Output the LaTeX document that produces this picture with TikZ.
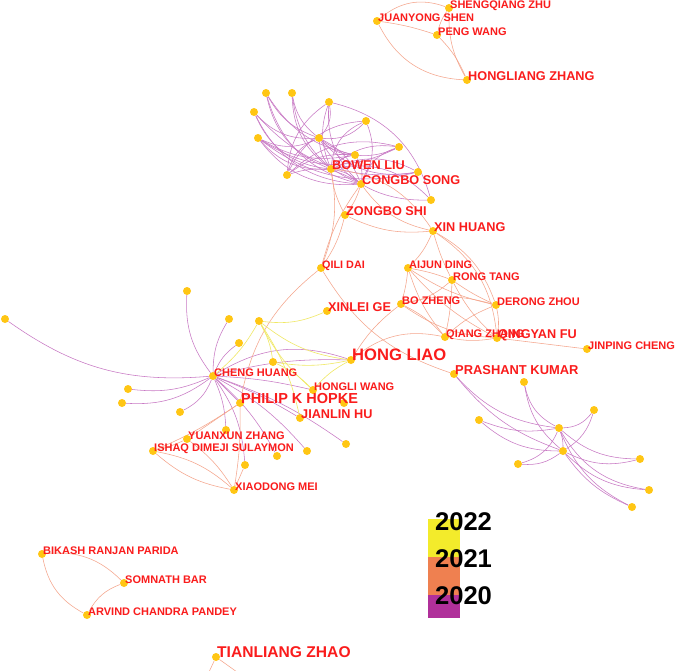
\documentclass[tikz,border=0pt]{standalone}
\usepackage{fontspec}
\setmainfont{Liberation Sans}
\pgfdeclarelayer{bg}
\pgfdeclarelayer{edges}
\pgfsetlayers{bg,edges,main}
\definecolor{labred}{RGB}{250,28,28}
\definecolor{gold}{RGB}{255,198,20}
\definecolor{c20}{RGB}{200,120,196}
\definecolor{c21}{RGB}{245,165,140}
\definecolor{c22}{RGB}{240,232,100}
\definecolor{leg22}{RGB}{243,235,43}
\definecolor{leg21}{RGB}{239,128,80}
\definecolor{leg20}{RGB}{176,48,154}
\begin{document}
\begin{tikzpicture}[x=1pt,y=-1pt,
  dot/.style={circle,fill=gold,inner sep=0pt,minimum size=8pt},
  lbl/.style={anchor=base west,inner sep=0pt,xshift=1pt,text=labred,font=\bfseries\fontsize{#1}{#1}\selectfont},
  e20/.style={draw=c20,line width=0.55pt},
  e21/.style={draw=c21,line width=0.55pt},
  e22/.style={draw=c22,line width=0.6pt},
  yr/.style={anchor=base,inner sep=0pt,font=\bfseries\fontsize{25.6}{25.6}\selectfont,text=black}]
\begin{pgfonlayer}{bg}
\fill[white] (0,0) rectangle (676,670);
\end{pgfonlayer}
\useasboundingbox (0,0) rectangle (676,670);

% nodes
\foreach \n/\x/\y in {sz/449/8, js/377/21, pw/437/35, hz/467/80,
  b1/266/93, b2/292/93, b3/329/102, b4/254/112, b5/366/121, b6/258/138, b7/319/138,
  b8/399/147, b9/355/155, bw/331/169, b10/287/175, b11/418/172, cs/361/184, b12/431/200,
  zs/345/215, xh/433/231, qd/321/268, ad/408/268, rt/452/280, bz/401/304, dz/496/305,
  xg/327/311, qz/445/337, qf/497/338, jc/587/349, hl/351/360, pk/454/374,
  c1/5/319, c2/187/291, c3/229/319, yh/259/321, c4/239/343, c5/273/362, ch/213/376,
  c6/128/389, c7/122/403, c8/180/412, ph/240/403, hw/313/390, c9/344/403, jh/300/418,
  c10/226/430, yz/187/439, is/153/451, c11/277/456, c12/307/451, c13/346/444,
  c14/245/465, xm/234/490,
  p1/524/382, p2/594/410, p3/479/420, p4/559/428, p5/563/451, p6/518/464,
  p7/640/459, p8/649/490, p9/632/507,
  bp/42/554, sb/124/583, ap/87/615, tz/216/657}
  \node[dot] (\n) at (\x,\y) {};
\coordinate (t1) at (209,672);
\coordinate (t2) at (237,672);

\begin{pgfonlayer}{edges}
% 2020 purple
\foreach \a/\b/\k in {b1/b7/-20, b1/bw/-28, b1/cs/-30, b1/b9/-22,
  b2/b7/-20, b2/bw/-25, b2/cs/-30,
  b3/b7/25, b3/bw/-20, b3/cs/-25, b3/b10/-25,
  b4/b7/-25, b4/bw/-30, b4/cs/-30, b4/b11/-28,
  b6/b7/-25, b6/bw/-25, b6/cs/-28, b6/b8/-30, b6/b9/-20,
  b10/b7/25, b10/b5/30, b10/b8/28, b10/b9/20, b10/cs/25,
  b5/b7/25, b5/bw/-30, b5/cs/25,
  b8/b7/30, b8/bw/-25, b8/cs/-25,
  b9/b7/20, b9/bw/-20, b9/cs/20,
  b11/b7/28, b11/bw/-25, b11/b6/25,
  b12/b7/30, b12/bw/-28, b12/b3/-30,
  bw/cs/15, b7/bw/-15, b7/cs/20,
  c1/ch/-20, c2/ch/-20, c3/ch/-15, c4/ch/-15, c6/ch/-15, c7/ch/-20, c8/ch/-20,
  ch/c10/10, ch/c14/15, ch/c11/10, ch/c12/10, ch/c13/8, ch/hw/5, ch/ph/0, ch/jh/5,
  ch/hl/25, ch/hl/8,
  pk/p4/-20, pk/p5/-15, p1/p4/-25, p1/p5/-20, p2/p4/25, p2/p5/20, p3/p4/-15, p3/p5/-20,
  p6/p4/-25, p6/p5/-20, p7/p4/20, p7/p5/20, p8/p4/25, p8/p5/20, p9/p4/20, p9/p5/15,
  p4/p5/10}
  \draw[e20] (\a) to[bend left=\k] (\b);
% 2021 orange
\foreach \a/\b/\k in {js/sz/30, js/pw/5, js/hz/-30, pw/hz/10, sz/hz/-15, pw/sz/10,
  bw/zs/-10, cs/zs/10, zs/xh/-15, cs/xh/-20, bw/xh/25, zs/qd/10, bw/qd/15, cs/qd/-10,
  qd/ph/-20, qd/pk/-20, hl/qz/25, hl/bz/10,
  xh/ad/10, xh/rt/-5, xh/dz/20, xh/qf/25,
  ad/rt/5, ad/dz/-10, ad/bz/5, ad/qz/-10, ad/qf/-10, rt/bz/15, rt/dz/-5, rt/qz/5,
  rt/qf/-10, bz/qz/10, bz/dz/15, bz/qf/-15, dz/qz/-10, dz/qf/10, qz/qf/-10, qf/jc/0,
  ph/yz/0, ph/is/5, is/xm/15, is/xm/-15, yz/xm/10, c14/xm/0, ph/xm/5, yz/is/5,
  bp/sb/25, bp/ap/-25, sb/ap/-20, tz/t1/0, tz/t2/0}
  \draw[e21] (\a) to[bend left=\k] (\b);
% 2022 yellow
\foreach \a/\b/\k in {yh/xg/-15, yh/ch/10, yh/c5/10, yh/hw/-10, yh/jh/10, yh/hl/-15,
  c5/hl/-10, c5/hw/10, hl/hw/-10}
  \draw[e22] (\a) to[bend left=\k] (\b);
\end{pgfonlayer}

% labels
\node[lbl=11] (L-sz) at (sz) {SHENGQIANG ZHU};
\node[lbl=11] (L-js) at (js) {JUANYONG SHEN};
\node[lbl=11] (L-pw) at (pw) {PENG WANG};
\node[lbl=12.7] (L-hz) at (hz) {HONGLIANG ZHANG};
\node[lbl=12.7] (L-bw) at (bw) {BOWEN LIU};
\node[lbl=12.7] (L-cs) at (cs) {CONGBO SONG};
\node[lbl=12.7] (L-zs) at (zs) {ZONGBO SHI};
\node[lbl=12.7] (L-xh) at (xh) {XIN HUANG};
\node[lbl=10.8] (L-qd) at (qd) {QILI DAI};
\node[lbl=10.9] (L-ad) at (ad) {AIJUN DING};
\node[lbl=11] (L-rt) at (rt) {RONG TANG};
\node[lbl=11] (L-bz) at (bz) {BO ZHENG};
\node[lbl=11] (L-dz) at (dz) {DERONG ZHOU};
\node[lbl=12.7] (L-xg) at (xg) {XINLEI GE};
\node[lbl=11] (L-qz) at (qz) {QIANG ZHANG};
\node[lbl=12.7] (L-qf) at (qf) {QINGYAN FU};
\node[lbl=11] (L-jc) at (jc) {JINPING CHENG};
\node[lbl=16.6] (L-hl) at (hl) {HONG LIAO};
\node[lbl=12.9] (L-pk) at (pk) {PRASHANT KUMAR};
\node[lbl=11] (L-ch) at (ch) {CHENG HUANG};
\node[lbl=11] (L-hw) at (hw) {HONGLI WANG};
\node[lbl=14.5] (L-ph) at (ph) {PHILIP K HOPKE};
\node[lbl=12.7] (L-jh) at (jh) {JIANLIN HU};
\node[lbl=11] (L-yz) at (yz) {YUANXUN ZHANG};
\node[lbl=11] (L-is) at (is) {ISHAQ DIMEJI SULAYMON};
\node[lbl=11] (L-xm) at (xm) {XIAODONG MEI};
\node[lbl=11] (L-bp) at (bp) {BIKASH RANJAN PARIDA};
\node[lbl=11] (L-sb) at (sb) {SOMNATH BAR};
\node[lbl=11] (L-ap) at (ap) {ARVIND CHANDRA PANDEY};
\node[lbl=15.6] (L-tz) at (tz) {TIANLIANG ZHAO};

% legend
\fill[leg22] (428,519) rectangle (460,557);
\fill[leg21] (428,557) rectangle (460,595);
\fill[leg20] (428,595) rectangle (460,618);
\node[yr] (y22) at (463.5,530) {2022};
\node[yr] (y21) at (463.5,567) {2021};
\node[yr] (y20) at (463.5,604) {2020};
\end{tikzpicture}
\end{document}
